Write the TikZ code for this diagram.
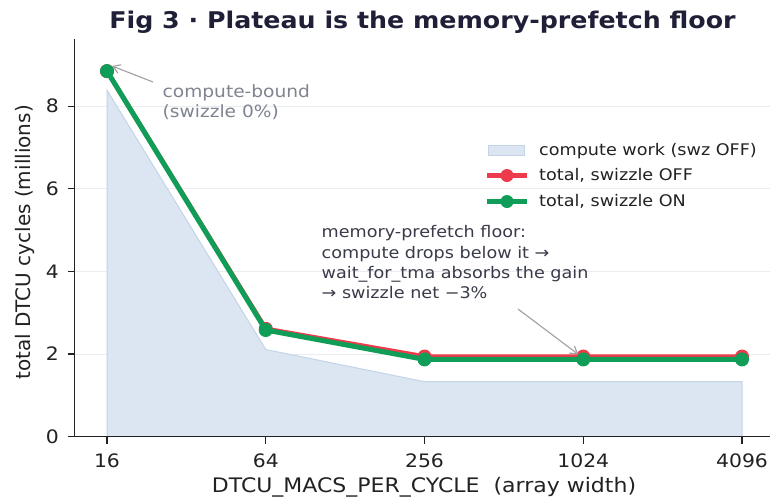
\documentclass[tikz,border=0pt]{standalone}
\usepackage{fontspec}
\setmainfont{DejaVu Sans}
\newfontfamily\widesans[FakeStretch=1.1]{DejaVu Sans}
\usetikzlibrary{arrows.meta}

\definecolor{swon}{HTML}{0F9D58}
\definecolor{swoff}{HTML}{EE3B4B}
\definecolor{workfill}{HTML}{DCE6F2}
\definecolor{workedge}{HTML}{C3D4E8}
\definecolor{gridc}{HTML}{E9ECF0}
\definecolor{titlec}{HTML}{1F2038}
\definecolor{notec}{HTML}{3A3B4A}
\definecolor{softc}{HTML}{7F8490}
\definecolor{arrowc}{HTML}{A0A0A0}
\definecolor{axisc}{HTML}{222222}

\tikzset{
  ticklab/.style={inner sep=0pt, text=axisc, font=\widesans\fontsize{18.5}{22}\selectfont},
  gridline/.style={draw=gridc, line width=1pt},
  spine/.style={draw=axisc, line width=1.4pt},
  tickmark/.style={draw=axisc, line width=1.2pt},
  online/.style={draw=swon, line width=5pt, line join=round},
  offline/.style={draw=swoff, line width=4.5pt, line join=round},
  ondot/.style={circle, fill=swon, inner sep=0pt, minimum size=14pt},
  offdot/.style={circle, fill=swoff, inner sep=0pt, minimum size=14pt},
  notearrow/.style={draw=arrowc, line width=1.1pt, -{Straight Barb[length=7pt,width=9pt]}},
  legtext/.style={anchor=west, inner sep=0pt, text=axisc, font=\widesans\fontsize{16}{20}\selectfont},
}

\begin{document}
\begin{tikzpicture}[x=1pt, y=-1pt]
\useasboundingbox[fill=white] (0,0) rectangle (770,499);

% horizontal grid
\foreach \gy in {354.0, 271.4, 188.8, 106.2}
  \draw[gridline] (75,\gy) -- (770,\gy);

% compute work area (swizzle off)
\coordinate (w1) at (107,90.1);
\coordinate (w2) at (265.75,349.5);
\coordinate (w3) at (424.5,381.7);
\coordinate (w4) at (583.25,381.7);
\coordinate (w5) at (742,381.7);
\coordinate (wb5) at (742,436.6);
\coordinate (wb1) at (107,436.6);
\fill[workfill] (wb1) -- (w1) -- (w2) -- (w3) -- (w4) -- (w5) -- (wb5) -- cycle;
\draw[workedge, line width=1pt] (wb1) -- (w1) -- (w2) -- (w3) -- (w4) -- (w5) -- (wb5);

% spines and ticks
\coordinate (origin) at (74.3,436.6);
\coordinate (ytop) at (74.3,39);
\coordinate (xend) at (770,436.6);
\draw[spine] (ytop) -- (origin) -- (xend);

\foreach \xx/\lab in {107/16, 265.75/64, 424.5/256, 583.25/1024, 742/4096} {
  \draw[tickmark] (\xx,436.6) -- (\xx,443.5);
  \node[ticklab] (xt\lab) at (\xx,461) {\lab};
}
\foreach \yy/\lab in {436.6/0, 354.0/2, 271.4/4, 188.8/6, 106.2/8} {
  \draw[tickmark] (67.5,\yy) -- (74.3,\yy);
  \node[ticklab, anchor=east] (yt\lab) at (59,\yy) {\lab};
}

% total cycles, swizzle off
\coordinate (r1) at (107,71.1);
\coordinate (r2) at (265.75,328.8);
\coordinate (r3) at (424.5,356.5);
\coordinate (r4) at (583.25,356.5);
\coordinate (r5) at (742,356.5);
\draw[offline] (r1) -- (r2) -- (r3) -- (r4) -- (r5);
\foreach \p in {r1,r2,r3,r4,r5} \node[offdot] at (\p) {};

% total cycles, swizzle on
\coordinate (g1) at (107,71.1);
\coordinate (g2) at (265.75,330.0);
\coordinate (g3) at (424.5,359.4);
\coordinate (g4) at (583.25,359.4);
\coordinate (g5) at (742,359.4);
\draw[online] (g1) -- (g2) -- (g3) -- (g4) -- (g5);
\foreach \p in {g1,g2,g3,g4,g5} \node[ondot] (d\p) at (\p) {};

% legend
\node[draw=workedge, fill=workfill, line width=0.8pt, minimum width=36pt, minimum height=10pt, inner sep=0pt] (legwork) at (506,150.5) {};
\node[legtext] (legworktxt) at (539,150.7) {compute work (swz OFF)};
\coordinate (lr0) at (487,175.5);
\coordinate (lr1) at (527,175.5);
\draw[offline, line width=4.5pt] (lr0) -- (lr1);
\node[offdot, minimum size=13pt] (legoff) at (507,175.5) {};
\node[legtext] (legofftxt) at (539,175.5) {total, swizzle OFF};
\coordinate (lg0) at (487,201.5);
\coordinate (lg1) at (527,201.5);
\draw[online, line width=4.5pt] (lg0) -- (lg1);
\node[ondot, minimum size=13pt] (legon) at (507,201.5) {};
\node[legtext] (legontxt) at (539,201.7) {total, swizzle ON};

% annotations
\node[anchor=north west, inner sep=0pt, align=left, text=softc,
      font=\widesans\fontsize{16.9}{20.4}\selectfont] (bound) at (162.5,84.5)
  {compute-bound\\(swizzle 0\%)};
\coordinate (boundtail) at (153,82);
\draw[notearrow] (boundtail) -- (dg1.north east);

\node[anchor=north west, inner sep=0pt, align=left, text=notec,
      font=\widesans\fontsize{16}{20.35}\selectfont] (floor) at (321.5,225.5)
  {memory-prefetch floor:\\compute drops below it →\\wait\_for\_tma absorbs the gain\\→ swizzle net −3\%};
\coordinate (floortail) at (518,309);
\draw[notearrow] (floortail) -- (dg4.north west);

% axis titles
\node[text=axisc, font=\widesans\fontsize{20}{24}\selectfont] (xlabel) at (424,487.5)
  {DTCU\_MACS\_PER\_CYCLE\ \ (array width)};
\node[text=axisc, rotate=90, font=\fontsize{20}{24}\selectfont] (ylabel) at (24.5,242.5)
  {total DTCU cycles (millions)};

% title
\node[text=titlec, font=\widesans\bfseries\fontsize{23}{27}\selectfont] (title) at (422.5,22)
  {Fig 3 · Plateau is the memory-prefetch floor};
\end{tikzpicture}
\end{document}
